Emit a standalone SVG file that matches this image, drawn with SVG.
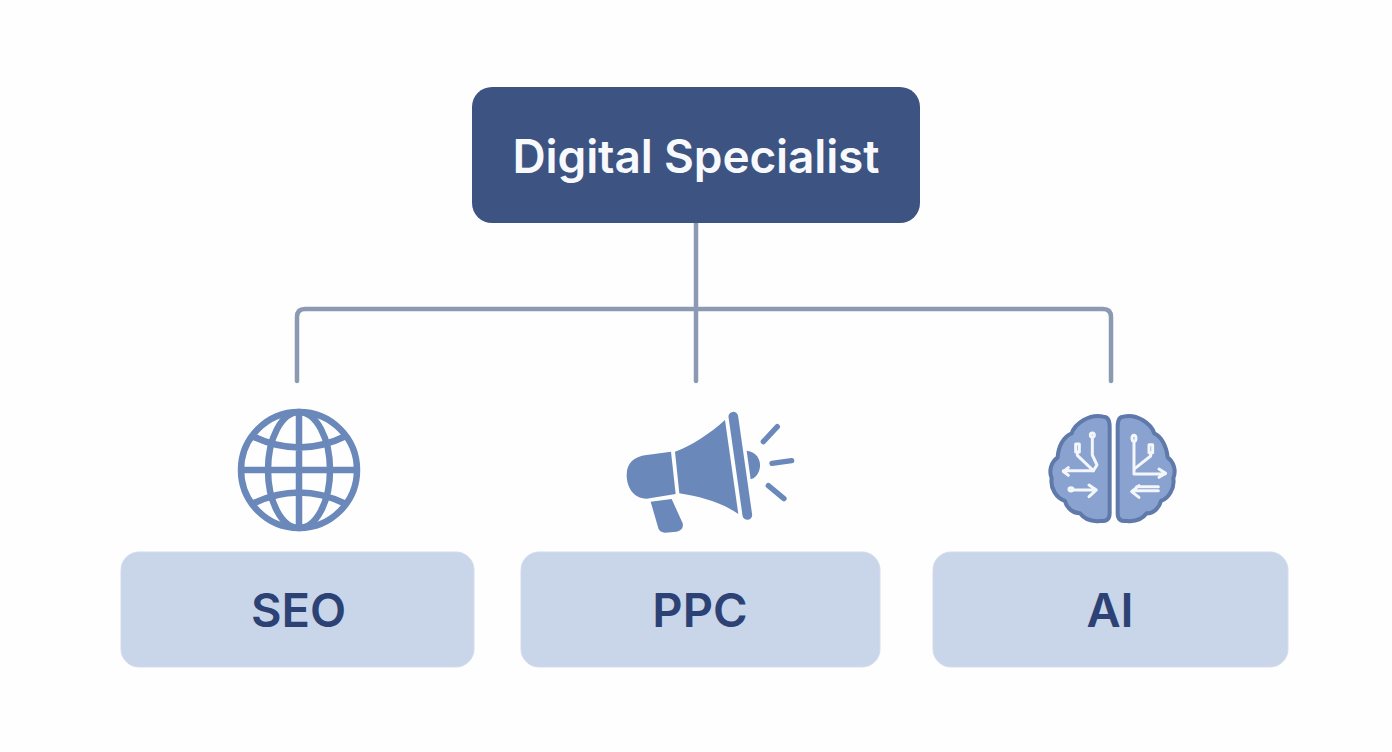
<svg xmlns="http://www.w3.org/2000/svg" width="1392" height="752" viewBox="0 0 1392 752">
<style>
.conn{fill:none;stroke:#8b9ab2;stroke-width:4.5;stroke-linecap:round}
.box{fill:#c9d5e9;stroke:#d3dcec;stroke-width:1}
.label{font-family:Inter,"Noto Sans",sans-serif;font-weight:600;font-size:47px;fill:#2c4275;text-anchor:middle}
.globe{fill:none;stroke:#6a88b9;stroke-width:6.5}
.mega{fill:#6b88ba}
.ray{fill:none;stroke:#6b88ba;stroke-linecap:round}
.lobe{fill:#8aa2cf;stroke:#6079ab;stroke-width:12;stroke-linejoin:round}
.wire{fill:none;stroke:#f3f6fb;stroke-width:9;stroke-linecap:round;stroke-linejoin:round}
</style>
<rect width="1392" height="752" fill="#fefefe"/>
<g id="connectors">
<path class="conn" d="M696 223V381"/>
<path class="conn" d="M297 381V317Q297 309 305 309H1103Q1111 309 1111 317V381"/>
</g>
<g id="digital-specialist">
<rect x="472" y="87" width="448" height="136" rx="20" fill="#3d5382"/>
<text x="696" y="173" text-anchor="middle" font-family="Inter,'Noto Sans',sans-serif" font-weight="600" font-size="46" textLength="367" lengthAdjust="spacing" fill="#f7f9fc">Digital Specialist</text>
</g>
<g id="seo">
<g class="globe">
<circle cx="299" cy="470" r="58"/>
<ellipse cx="299" cy="470" rx="31" ry="58"/>
<path d="M299 412V528M241 470H357M252 436Q299 459 346 436M252 504Q299 481 346 504"/>
</g>
<rect class="box" x="121" y="552" width="353" height="115" rx="18"/>
<text class="label" x="298.500" y="627">SEO</text>
</g>
<g id="ppc">
<g transform="translate(610 400) scale(.3333)">
<path class="mega" d="M183 155L197 282L110 296C70 296 50 260 50 225C50 190 70 170 110 165Z"/>
<path class="mega" d="M195 155C250 135 300 100 345 60L385 342C330 305 270 290 208 280Z"/>
<path class="ray" stroke-width="29" d="M370 50L412 345"/>
<path class="mega" d="M410 152C440 155 452 180 450 200C448 220 435 235 422 238Z"/>
<path class="mega" d="M122 305L185 297L218 370Q222 390 200 395L165 398Q150 398 145 385Z"/>
<path class="ray" stroke-width="16" d="M460 125L502 80M486 190L545 182M475 257L522 296"/>
</g>
<rect class="box" x="521" y="552" width="359" height="115" rx="18"/>
<text class="label" x="700" y="627">PPC</text>
</g>
<g id="ai">
<g transform="translate(1035 400) scale(.3333)">
<path class="lobe" d="M205 50C221 50 224 65 224 80L224 340C224 358 215 365 195 363C175 365 150 360 135 340C115 340 95 325 90 303C65 295 45 265 50 235C40 210 50 185 68 172C70 140 85 110 110 100C120 70 165 40 205 50Z"/>
<path class="lobe" d="M265 50C251 50 248 65 248 80L248 340C248 358 256 365 276 363C296 365 320 360 335 340C355 340 372 325 378 303C400 295 420 265 415 235C425 210 415 185 398 172C395 140 380 110 358 100C348 70 305 40 265 50Z"/>
<g class="wire">
<circle cx="172" cy="105" r="6"/>
<path d="M172 112V165L186 195L175 212H85M100 203L85 215L100 226"/>
<rect x="122" y="132" width="11" height="24"/>
<path d="M127 156V166L175 212"/>
<ellipse cx="108" cy="268" rx="6" ry="5"/>
<path d="M114 270H182M162 255L184 270L162 290"/>
<ellipse cx="297" cy="115" rx="6" ry="9"/>
<path d="M297 124V222H390M372 207L392 220L372 232"/>
<rect x="342" y="134" width="11" height="24"/>
<path d="M347 158V168L300 205"/>
<path d="M370 272H292M312 257L290 275L312 292M305 260H370"/>
</g>
</g>
<rect class="box" x="933" y="552" width="355" height="115" rx="18"/>
<text class="label" x="1110" y="627">AI</text>
</g>
</svg>
